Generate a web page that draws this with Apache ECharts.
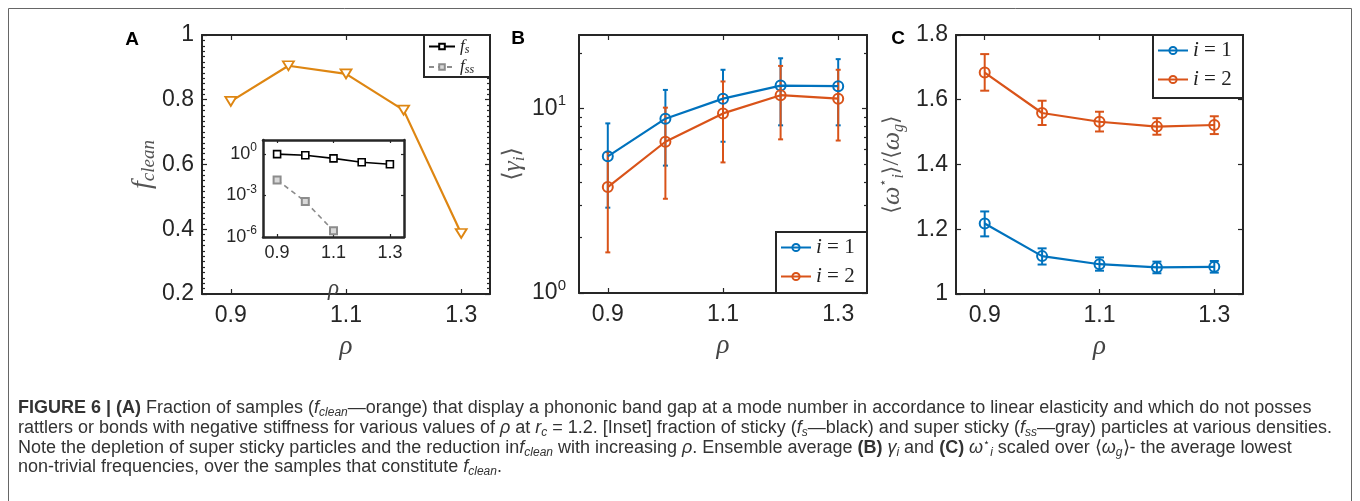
<!DOCTYPE html>
<html>
<head>
<meta charset="utf-8">
<title>Figure 6</title>
<script src="https://cdn.jsdelivr.net/npm/echarts@6/dist/echarts.min.js"></script>
<style>
  html, body { margin: 0; padding: 0; background: #fff; }
  #chart { width: 1360px; height: 501px; }
</style>
</head>
<body>
<div id="chart"></div>
<script>
// densities shared by every panel
const rho = [0.9, 1.0, 1.1, 1.2, 1.3];
const rhoTicks = [0.9, 1.1, 1.3];

// (A) fraction of clean samples
const fClean = [0.795, 0.905, 0.88, 0.768, 0.387];

// inset: sticky and super sticky fractions (fss vanishes after 1.1)
const fS = [0.95, 0.8, 0.47, 0.25, 0.18];
const rhoSS = [0.9, 1.0, 1.1];
const fSS = [0.013, 3.6e-4, 2.8e-6];
const insetTicks = [1e-6, 1e-3, 1];

// (B) <gamma_i> with error bars
const gamma1 = [5.5, 8.8, 11.3, 13.3, 13.2];
const gamma1Lo = [2.9, 4.9, 6.6, 8.1, 8.1];
const gamma1Hi = [8.3, 12.6, 16.2, 18.7, 18.5];
const gamma2 = [3.75, 6.6, 9.4, 11.8, 11.3];
const gamma2Lo = [1.66, 3.24, 5.1, 6.8, 6.7];
const gamma2Hi = [5.8, 10.1, 14.0, 17.0, 16.2];
const gammaTicks = [1, 10];
const gammaMinor = [2, 3, 4, 5, 6, 7, 8, 9, 20];

// (C) <omega*_i>/<omega_g> with error bars
const omega1 = [1.218, 1.117, 1.092, 1.082, 1.084];
const omega1Lo = [1.178, 1.091, 1.072, 1.064, 1.066];
const omega1Hi = [1.255, 1.141, 1.113, 1.100, 1.102];
const omega2 = [1.684, 1.559, 1.532, 1.517, 1.522];
const omega2Lo = [1.628, 1.522, 1.502, 1.492, 1.494];
const omega2Hi = [1.741, 1.597, 1.563, 1.543, 1.549];

const sans = 'Liberation Sans';
const serif = 'Liberation Serif';
const axisColor = '#262626';
const orange = '#DE8612';
const blue = '#0072BD';
const red = '#D95319';

const chart = echarts.init(document.getElementById('chart'));

function pairs(xs, ys) {
  return xs.map((x, i) => [x, ys[i]]);
}

function errorBars(capHalf) {
  return function (params, api) {
    const x = api.value(0);
    const lo = api.coord([x, api.value(1)]);
    const hi = api.coord([x, api.value(2)]);
    const style = { stroke: api.visual('color'), lineWidth: 2 };
    return {
      type: 'group',
      children: [
        { type: 'line', shape: { x1: lo[0], y1: lo[1], x2: hi[0], y2: hi[1] }, style },
        { type: 'line', shape: { x1: lo[0] - capHalf, y1: lo[1], x2: lo[0] + capHalf, y2: lo[1] }, style },
        { type: 'line', shape: { x1: hi[0] - capHalf, y1: hi[1], x2: hi[0] + capHalf, y2: hi[1] }, style }
      ]
    };
  };
}

function errSeries(xi, yi, lo, hi, color, cap) {
  return {
    type: 'custom',
    xAxisIndex: xi,
    yAxisIndex: yi,
    itemStyle: { color },
    renderItem: errorBars(cap),
    encode: { x: 0, y: [1, 2] },
    data: rho.map((r, i) => [r, lo[i], hi[i]]),
    silent: true
  };
}

function meanSeries(name, xi, yi, vals, color, size) {
  return {
    type: 'line',
    name,
    xAxisIndex: xi,
    yAxisIndex: yi,
    data: pairs(rho, vals),
    color,
    symbol: 'circle',
    symbolSize: size,
    lineStyle: { color, width: 2.2 },
    itemStyle: { color: 'rgba(255,255,255,0)', borderColor: color, borderWidth: 2 },
    emphasis: { disabled: true }
  };
}

// bottom axis with labels + top mirror axis with inner ticks only
function xPair(grid, o) {
  const base = {
    type: 'value', gridIndex: grid, min: 0.85, max: 1.35,
    splitLine: { show: false },
    axisLine: { show: true, onZero: false, lineStyle: { color: axisColor, width: o.lw } },
    axisTick: { show: true, inside: true, length: o.tick, customValues: rhoTicks, lineStyle: { color: axisColor, width: 1.2 } }
  };
  return [
    Object.assign({}, base, {
      position: 'bottom',
      axisLabel: { customValues: rhoTicks, formatter: v => v.toFixed(1), margin: o.margin, fontSize: o.fs, color: axisColor, fontFamily: sans },
      name: 'ρ', nameLocation: 'middle', nameGap: o.nameGap,
      nameTextStyle: { fontFamily: serif, fontStyle: 'italic', fontSize: o.nameFs, color: '#444' }
    }),
    Object.assign({}, base, { position: 'top', axisLabel: { show: false } })
  ];
}

const linearLabel = v => (Math.abs(v - Math.round(v)) < 1e-9 ? String(Math.round(v)) : v.toFixed(1));
const powLabel = v => '{b|10}{s|' + Math.round(Math.log10(v)) + '}';

const option = {
  animation: false,
  backgroundColor: '#fff',
  grid: [
    { left: 202, top: 35, width: 288, height: 259 },
    { left: 263, top: 140, width: 141, height: 97 },
    { left: 579, top: 35, width: 288, height: 258 },
    { left: 956, top: 35, width: 287, height: 259 }
  ],
  xAxis: [
    ...xPair(0, { lw: 2, tick: 5, margin: 10, fs: 23, nameGap: 39, nameFs: 27 }),
    ...xPair(1, { lw: 2.5, tick: 3, margin: 7, fs: 18, nameGap: 40, nameFs: 23 }),
    ...xPair(2, { lw: 2, tick: 5, margin: 10, fs: 23, nameGap: 39, nameFs: 27 }),
    ...xPair(3, { lw: 2, tick: 5, margin: 10, fs: 23, nameGap: 39, nameFs: 27 })
  ],
  yAxis: [
    // A left
    {
      type: 'value', gridIndex: 0, position: 'left', min: 0.2, max: 1, interval: 0.2,
      splitLine: { show: false },
      axisLine: { show: true, lineStyle: { color: axisColor, width: 2 } },
      axisTick: { show: true, inside: true, length: 5, lineStyle: { color: axisColor, width: 1.2 } },
      minorTick: { show: true, splitNumber: 12, length: 3, lineStyle: { color: axisColor, width: 1.2 } },
      axisLabel: { formatter: linearLabel, margin: 8, fontSize: 23, color: axisColor, fontFamily: sans },
      name: '{f|f}{sub|clean}', nameLocation: 'middle', nameRotate: 90, nameGap: 41,
      nameTextStyle: {
        rich: {
          f: { fontFamily: serif, fontStyle: 'italic', fontSize: 28, lineHeight: 30, color: '#555' },
          sub: { fontFamily: serif, fontStyle: 'italic', fontSize: 19, lineHeight: 19, verticalAlign: 'bottom', color: '#555' }
        }
      }
    },
    // A right
    {
      type: 'value', gridIndex: 0, position: 'right', min: 0.2, max: 1, interval: 0.2,
      splitLine: { show: false },
      axisLine: { show: true, lineStyle: { color: axisColor, width: 2 } },
      axisTick: { show: true, inside: true, length: 5, lineStyle: { color: axisColor, width: 1.2 } },
      minorTick: { show: true, splitNumber: 12, length: 3, lineStyle: { color: axisColor, width: 1.2 } },
      axisLabel: { show: false }
    },
    // inset left
    {
      type: 'log', logBase: 10, gridIndex: 1, position: 'left', min: 1e-6, max: 10,
      splitLine: { show: false },
      axisLine: { show: true, lineStyle: { color: axisColor, width: 2.5 } },
      axisTick: { show: true, inside: true, length: 3, customValues: insetTicks, lineStyle: { color: axisColor, width: 1.2 } },
      axisLabel: {
        customValues: insetTicks, formatter: powLabel, margin: 6, color: axisColor, fontFamily: sans,
        rich: {
          b: { fontSize: 18, lineHeight: 24, fontFamily: sans, color: axisColor },
          s: { fontSize: 12, lineHeight: 10, verticalAlign: 'top', fontFamily: sans, color: axisColor }
        }
      }
    },
    // inset right
    {
      type: 'log', logBase: 10, gridIndex: 1, position: 'right', min: 1e-6, max: 10,
      splitLine: { show: false },
      axisLine: { show: true, lineStyle: { color: axisColor, width: 2.5 } },
      axisTick: { show: true, inside: true, length: 3, customValues: insetTicks, lineStyle: { color: axisColor, width: 1.2 } },
      axisLabel: { show: false }
    },
    // B left
    {
      type: 'log', logBase: 10, gridIndex: 2, position: 'left', min: 1, max: 25,
      splitLine: { show: false },
      axisLine: { show: true, lineStyle: { color: axisColor, width: 2 } },
      axisTick: { show: true, inside: true, length: 5, customValues: gammaTicks, lineStyle: { color: axisColor, width: 1.2 } },
      axisLabel: {
        customValues: gammaTicks, formatter: powLabel, margin: 13, color: axisColor, fontFamily: sans,
        rich: {
          b: { fontSize: 23, lineHeight: 30, fontFamily: sans, color: axisColor },
          s: { fontSize: 15, lineHeight: 12, verticalAlign: 'top', fontFamily: sans, color: axisColor }
        }
      },
      name: '{br|⟨}{g|γ}{sub|i}{br|⟩}', nameLocation: 'middle', nameRotate: 90, nameGap: 47,
      nameTextStyle: {
        rich: {
          br: { fontFamily: 'DejaVu Sans', fontSize: 24, lineHeight: 30, color: '#555' },
          g: { fontFamily: serif, fontStyle: 'italic', fontSize: 26, lineHeight: 30, color: '#555' },
          sub: { fontFamily: serif, fontStyle: 'italic', fontSize: 17, lineHeight: 17, verticalAlign: 'bottom', color: '#555' }
        }
      }
    },
    // B right
    {
      type: 'log', logBase: 10, gridIndex: 2, position: 'right', min: 1, max: 25,
      splitLine: { show: false },
      axisLine: { show: true, lineStyle: { color: axisColor, width: 2 } },
      axisTick: { show: true, inside: true, length: 5, customValues: gammaTicks, lineStyle: { color: axisColor, width: 1.2 } },
      axisLabel: { show: false }
    },
    // B minor ticks, left and right
    {
      type: 'log', logBase: 10, gridIndex: 2, position: 'left', min: 1, max: 25,
      splitLine: { show: false }, axisLine: { show: false },
      axisTick: { show: true, inside: true, length: 3, customValues: gammaMinor, lineStyle: { color: axisColor, width: 1.2 } },
      axisLabel: { show: false }
    },
    {
      type: 'log', logBase: 10, gridIndex: 2, position: 'right', min: 1, max: 25,
      splitLine: { show: false }, axisLine: { show: false },
      axisTick: { show: true, inside: true, length: 3, customValues: gammaMinor, lineStyle: { color: axisColor, width: 1.2 } },
      axisLabel: { show: false }
    },
    // C left
    {
      type: 'value', gridIndex: 3, position: 'left', min: 1, max: 1.8, interval: 0.2,
      splitLine: { show: false },
      axisLine: { show: true, lineStyle: { color: axisColor, width: 2 } },
      axisTick: { show: true, inside: true, length: 5, lineStyle: { color: axisColor, width: 1.2 } },
      axisLabel: { formatter: linearLabel, margin: 8, fontSize: 23, color: axisColor, fontFamily: sans },
      name: '{br|⟨}{w|ω}{sup|⋆}{sub|i}{br|⟩}/{br|⟨}{w|ω}{sub|g}{br|⟩}', nameLocation: 'middle', nameRotate: 90, nameGap: 49,
      nameTextStyle: {
        fontFamily: serif, fontSize: 24, color: '#555',
        rich: {
          br: { fontFamily: 'DejaVu Sans', fontSize: 22, lineHeight: 30, color: '#555' },
          w: { fontFamily: serif, fontStyle: 'italic', fontSize: 26, lineHeight: 30, color: '#555' },
          sup: { fontFamily: 'DejaVu Sans', fontSize: 13, lineHeight: 13, verticalAlign: 'top', color: '#555' },
          sub: { fontFamily: serif, fontStyle: 'italic', fontSize: 16, lineHeight: 16, verticalAlign: 'bottom', color: '#555' }
        }
      }
    },
    // C right
    {
      type: 'value', gridIndex: 3, position: 'right', min: 1, max: 1.8, interval: 0.2,
      splitLine: { show: false },
      axisLine: { show: true, lineStyle: { color: axisColor, width: 2 } },
      axisTick: { show: true, inside: true, length: 5, lineStyle: { color: axisColor, width: 1.2 } },
      axisLabel: { show: false }
    }
  ],
  legend: [
    {
      data: ['fs', 'fss'], left: 428, top: 38, orient: 'vertical', selectedMode: false, z: 20,
      itemWidth: 26, itemHeight: 7, itemGap: 3, padding: 0,
      formatter: n => (n === 'fs' ? '{f|f}{s|s}' : '{f|f}{s|ss}'),
      textStyle: {
        rich: {
          f: { fontFamily: serif, fontStyle: 'italic', fontSize: 17, lineHeight: 18, color: '#222' },
          s: { fontFamily: serif, fontStyle: 'italic', fontSize: 12, lineHeight: 12, verticalAlign: 'bottom', color: '#222' }
        }
      }
    },
    {
      data: ['i1', 'i2'], left: 780, top: 237, orient: 'vertical', selectedMode: false, z: 20,
      itemWidth: 30, itemHeight: 9, itemGap: 8, padding: 0,
      formatter: n => '{i|i} = ' + n.slice(1),
      textStyle: { fontFamily: serif, fontSize: 21, color: '#222', rich: { i: { fontFamily: serif, fontStyle: 'italic', fontSize: 21, color: '#222' } } }
    },
    {
      data: ['j1', 'j2'], left: 1157, top: 40, orient: 'vertical', selectedMode: false, z: 20,
      itemWidth: 30, itemHeight: 9, itemGap: 8, padding: 0,
      formatter: n => '{i|i} = ' + n.slice(1),
      textStyle: { fontFamily: serif, fontSize: 21, color: '#222', rich: { i: { fontFamily: serif, fontStyle: 'italic', fontSize: 21, color: '#222' } } }
    }
  ],
  series: [
    {
      type: 'line', xAxisIndex: 0, yAxisIndex: 0, data: pairs(rho, fClean),
      symbol: 'triangle', symbolRotate: 180, symbolSize: [11, 9],
      lineStyle: { color: orange, width: 2.2 },
      itemStyle: { color: '#fff', borderColor: orange, borderWidth: 1.8 },
      emphasis: { disabled: true }
    },
    {
      type: 'line', name: 'fs', xAxisIndex: 2, yAxisIndex: 2, data: pairs(rho, fS),
      color: '#000', symbol: 'rect', symbolSize: 7,
      lineStyle: { color: '#000', width: 1.6 },
      itemStyle: { color: '#fff', borderColor: '#000', borderWidth: 1.6 },
      emphasis: { disabled: true }
    },
    {
      type: 'line', name: 'fss', xAxisIndex: 2, yAxisIndex: 2, data: pairs(rhoSS, fSS),
      color: '#8c8c8c', symbol: 'rect', symbolSize: 7,
      lineStyle: { color: '#8c8c8c', width: 1.6, type: [5, 4] },
      itemStyle: { color: '#d9d9d9', borderColor: '#8c8c8c', borderWidth: 2 },
      emphasis: { disabled: true }
    },
    errSeries(4, 4, gamma1Lo, gamma1Hi, blue, 2.5),
    meanSeries('i1', 4, 4, gamma1, blue, 10),
    errSeries(4, 4, gamma2Lo, gamma2Hi, red, 2.5),
    meanSeries('i2', 4, 4, gamma2, red, 10),
    errSeries(6, 8, omega1Lo, omega1Hi, blue, 4.5),
    meanSeries('j1', 6, 8, omega1, blue, 10),
    errSeries(6, 8, omega2Lo, omega2Hi, red, 4.5),
    meanSeries('j2', 6, 8, omega2, red, 10)
  ],
  graphic: [
    { type: 'rect', z: 0, shape: { x: 8.5, y: 8.5, width: 1343, height: 520 }, style: { fill: 'none', stroke: '#666', lineWidth: 1 } },
    // legend frames
    { type: 'rect', z: 15, shape: { x: 424, y: 35, width: 66, height: 42 }, style: { fill: '#fff', stroke: axisColor, lineWidth: 2 } },
    { type: 'rect', z: 15, shape: { x: 776, y: 232, width: 91, height: 61 }, style: { fill: '#fff', stroke: axisColor, lineWidth: 2 } },
    { type: 'rect', z: 15, shape: { x: 1153, y: 35, width: 90, height: 63 }, style: { fill: '#fff', stroke: axisColor, lineWidth: 2 } },
    // panel letters
    { type: 'text', x: 132, y: 40, style: { text: 'A', font: 'bold 19px "Liberation Sans"', fill: '#000', align: 'center', verticalAlign: 'middle' } },
    { type: 'text', x: 518, y: 39, style: { text: 'B', font: 'bold 19px "Liberation Sans"', fill: '#000', align: 'center', verticalAlign: 'middle' } },
    { type: 'text', x: 898, y: 39, style: { text: 'C', font: 'bold 19px "Liberation Sans"', fill: '#000', align: 'center', verticalAlign: 'middle' } }
  ]
};

// caption below the panels
const capSize = 18;
const capRich = {
  b: { fontFamily: sans, fontWeight: 'bold', fontSize: capSize, lineHeight: 22, color: '#222' },
  i: { fontFamily: sans, fontStyle: 'italic', fontSize: capSize, lineHeight: 22, color: '#333' },
  sub: { fontFamily: sans, fontStyle: 'italic', fontSize: 12, lineHeight: 13, verticalAlign: 'bottom', color: '#333' },
  sup: { fontFamily: sans, fontSize: 11, lineHeight: 12, verticalAlign: 'top', color: '#333' }
};
const captionLines = [
  '{b|FIGURE 6 | (A)} Fraction of samples ({i|f}{sub|clean}—orange) that display a phononic band gap at a mode number in accordance to linear elasticity and which do not posses',
  'rattlers or bonds with negative stiffness for various values of {i|ρ} at {i|r}{sub|c} = 1.2. [Inset] fraction of sticky ({i|f}{sub|s}—black) and super sticky ({i|f}{sub|ss}—gray) particles at various densities.',
  'Note the depletion of super sticky particles and the reduction in{i|f}{sub|clean} with increasing {i|ρ}. Ensemble average {b|(B)} {i|γ}{sub|i} and {b|(C)} {i|ω}{sup|⋆}{sub|i} scaled over ⟨{i|ω}{sub|g}⟩- the average lowest',
  'non-trivial frequencies, over the samples that constitute {i|f}{sub|clean}.'
];
const captionY = [408, 428, 448, 467];
captionLines.forEach((t, k) => {
  option.graphic.push({
    type: 'text', x: 18, y: captionY[k],
    style: {
      text: t, rich: capRich, fontFamily: sans, fontSize: capSize, lineHeight: 22,
      fill: '#333', verticalAlign: 'middle'
    }
  });
});

chart.setOption(option);
</script>
</body>
</html>
